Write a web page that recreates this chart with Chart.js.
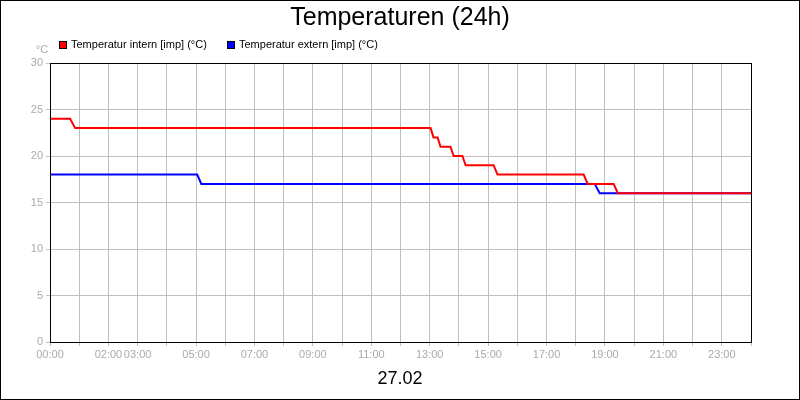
<!DOCTYPE html>
<html><head><meta charset="utf-8">
<script src="https://cdn.jsdelivr.net/npm/chart.js@4/dist/chart.umd.min.js"></script>
<style>html,body{margin:0;padding:0;background:#fff}#w{width:798px;height:398px;border:1px solid #000}</style>
</head><body><div id="w"><canvas id="c" width="798" height="398"></canvas></div>
<script>
const title = "Temperaturen (24h)";
const dateLabel = "27.02";
const seriesNames = ["Temperatur intern [imp] (°C)", "Temperatur extern [imp] (°C)"];
const internHours = [0, 0.69, 0.86, 13.03, 13.13, 13.27, 13.37, 13.71, 13.82, 14.12, 14.23, 15.19, 15.32, 18.27, 18.41, 19.30, 19.44, 24];
const internTemps = [24, 24, 23, 23, 22, 22, 21, 21, 20, 20, 19, 19, 18, 18, 17, 17, 16, 16];
const externHours = [0, 5.04, 5.18, 18.65, 18.82, 24];
const externTemps = [18, 18, 17, 17, 16, 16];
const xTickLabels = {0:"00:00",2:"02:00",3:"03:00",5:"05:00",7:"07:00",9:"09:00",11:"11:00",13:"13:00",15:"15:00",17:"17:00",19:"19:00",21:"21:00",23:"23:00"};
const yUnit = "°C";

const mk = (h, t) => h.map((x, i) => ({x, y: t[i]}));
const FONT = "'Liberation Sans', Arial, sans-serif";
const deco = {
  id: 'deco',
  afterDraw(ch) {
    const c = ch.ctx; c.save();
    c.fillStyle = '#000'; c.textAlign = 'center'; c.textBaseline = 'middle';
    c.font = '25px ' + FONT; c.fillText(title, 399, 17);
    c.font = '18px ' + FONT; c.fillText(dateLabel, 399, 378);
    c.font = '11px ' + FONT; c.textAlign = 'left';
    const cols = ['#ff0000', '#0000ff']; const xs = [58, 226];
    seriesNames.forEach((n, i) => {
      c.fillStyle = cols[i]; c.fillRect(xs[i], 40, 8, 8);
      c.strokeStyle = '#000'; c.lineWidth = 1; c.strokeRect(xs[i] + .5, 40.5, 7, 7);
      c.fillStyle = '#000'; c.fillText(n, xs[i] + 12, 44);
    });
    c.fillStyle = '#aaa'; c.textAlign = 'center'; c.fillText(yUnit, 41, 49);
    c.restore();
  }
};
new Chart(document.getElementById('c'), {
  type: 'line',
  data: { datasets: [
    { data: mk(internHours, internTemps), borderColor: '#ff0000', borderWidth: 2, pointRadius: 0, tension: 0 },
    { data: mk(externHours, externTemps), borderColor: '#0000ff', borderWidth: 2, pointRadius: 0, tension: 0 }
  ]},
  options: {
    responsive: false, animation: false, events: [],
    layout: { padding: { top: 62, right: 48, left: 0, bottom: 0 } },
    plugins: { legend: { display: false }, title: { display: false }, tooltip: { enabled: false } },
    scales: {
      x: { type: 'linear', min: 0, max: 24,
        afterFit(s) { s.height = 57; },
        grid: { color: '#c0c0c0', tickLength: 4, tickColor: '#c0c0c0' },
        border: { color: '#000', width: 1 },
        ticks: { stepSize: 1, autoSkip: false, maxRotation: 0, color: '#aaa', font: { family: FONT, size: 11 }, padding: 2,
          callback: v => xTickLabels[v] !== undefined ? xTickLabels[v] : '' } },
      y: { min: 0, max: 30,
        afterFit(s) { s.width = 49; },
        grid: { color: '#c0c0c0', tickLength: 4, tickColor: '#c0c0c0' },
        border: { color: '#000', width: 1 },
        ticks: { stepSize: 5, color: '#aaa', font: { family: FONT, size: 11 }, padding: 3 } }
    }
  },
  plugins: [deco, { id: 'frame', afterDraw(ch) { const a = ch.chartArea, c = ch.ctx; c.save(); c.strokeStyle = '#000'; c.lineWidth = 1; c.strokeRect(Math.round(a.left) + .5, Math.round(a.top) + .5, Math.round(a.right - a.left), Math.round(a.bottom - a.top)); c.restore(); } }]
});
</script></body></html>
